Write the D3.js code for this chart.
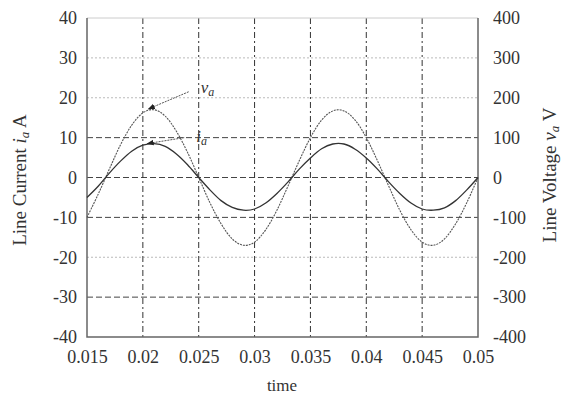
<!DOCTYPE html>
<html>
<head>
<meta charset="utf-8">
<script src="https://cdn.jsdelivr.net/npm/d3@7"></script>
<style>
  body { margin: 0; background: #fff; }
  text { font-family: "Liberation Serif", "DejaVu Serif", serif; fill: #333; }
</style>
</head>
<body>
<svg id="chart" width="562" height="396"></svg>
<script>
// time samples (s)
const time = [0.015,0.016,0.017,0.018,0.019,0.020,0.021,0.022,0.023,0.024,0.025,0.026,
  0.027,0.028,0.029,0.030,0.031,0.032,0.033,0.034,0.035,0.036,0.037,0.038,0.039,0.040,
  0.041,0.042,0.043,0.044,0.045,0.046,0.047,0.048,0.049,0.050]
// line voltage v_a (V, right axis)
const voltage = [-100,-42,21,82,131,162,170,154,116,63,0,-63,-116,-154,-170,-162,-131,-82,
  -21,42,100,144,167,167,144,100,42,-21,-82,-131,-162,-170,-154,-116,-63,0]
// line current i_a (A, left axis)
const current = [-5.0,-2.2,1.1,4.1,6.6,8.1,8.5,7.8,5.9,3.2,0,-3.1,-5.8,-7.5,-8.2,-7.9,-6.4,
  -4.0,-1.1,2.1,4.9,7.2,8.4,8.4,7.1,4.9,2.1,-1.1,-4.0,-6.4,-7.9,-8.2,-7.6,-5.8,-3.1,0]

const xTicks = [0.015,0.02,0.025,0.03,0.035,0.04,0.045,0.05]
const leftTicks = [-40,-30,-20,-10,0,10,20,30,40]
const rightTicks = [-400,-300,-200,-100,0,100,200,300,400]
const lightGrid = [30, 20, -20]

const svg = d3.select("#chart")
const margin = {left: 87, right: 84, top: 18, bottom: 59}
const width = 562 - margin.left - margin.right
const height = 396 - margin.top - margin.bottom
const serif = "'Liberation Serif', 'DejaVu Serif', serif"

const g = svg.append("g").attr("transform", `translate(${margin.left},${margin.top})`)

const x = d3.scaleLinear().domain([0.015, 0.05]).range([0, width])
const yL = d3.scaleLinear().domain([-40, 40]).range([height, 0])
const yR = d3.scaleLinear().domain([-400, 400]).range([height, 0])

// horizontal grid
g.append("g").selectAll("line")
  .data(leftTicks.filter(d => d > -40 && d < 40))
  .join("line")
    .attr("x1", 0).attr("x2", width)
    .attr("y1", d => yL(d)).attr("y2", d => yL(d))
    .attr("stroke", d => lightGrid.includes(d) ? "#bbb" : "#444")
    .attr("stroke-width", 1)
    .attr("stroke-dasharray", d => lightGrid.includes(d) ? "2,2" : "6,3");

// vertical grid (dash-dot)
g.append("g").selectAll("line")
  .data(xTicks.filter(d => d > 0.015 && d < 0.05))
  .join("line")
    .attr("x1", d => x(d)).attr("x2", d => x(d))
    .attr("y1", 0).attr("y2", height)
    .attr("stroke", "#333")
    .attr("stroke-dasharray", "6,3,2,3");

// frame
g.append("line").attr("x1", 0).attr("x2", width).attr("y1", 0).attr("y2", 0)
  .attr("stroke", "#ccc");
g.append("path")
  .attr("d", `M0,0V${height}H${width}V0`)
  .attr("fill", "none").attr("stroke", "#666").attr("stroke-width", 1.5);

// axes
const fmt = d => String(+d.toFixed(3))
const axL = g.append("g")
  .call(d3.axisLeft(yL).tickValues(leftTicks).tickFormat(fmt).tickSize(0).tickPadding(10))
axL.select(".domain").remove()
const axR = g.append("g").attr("transform", `translate(${width},0)`)
  .call(d3.axisRight(yR).tickValues(rightTicks).tickFormat(fmt).tickSize(0).tickPadding(15))
axR.select(".domain").remove()
const axB = g.append("g").attr("transform", `translate(0,${height})`)
  .call(d3.axisBottom(x).tickValues(xTicks).tickFormat(fmt).tickSize(0).tickPadding(13))
axB.select(".domain").remove()
g.selectAll(".tick text")
  .style("font-family", serif).style("font-size", "18px").attr("fill", "#333")

// curves
const lineV = d3.line().x((d, i) => x(time[i])).y(d => yR(d)).curve(d3.curveCardinal)
const lineI = d3.line().x((d, i) => x(time[i])).y(d => yL(d)).curve(d3.curveCardinal)

g.append("path").datum(voltage).attr("d", lineV)
  .attr("fill", "none").attr("stroke", "#555").attr("stroke-width", 1.1)
  .attr("stroke-dasharray", "2,1");
g.append("path").datum(current).attr("d", lineI)
  .attr("fill", "none").attr("stroke", "#333").attr("stroke-width", 1.3);

// annotations
svg.append("defs").append("marker")
  .attr("id", "arr").attr("viewBox", "0 0 10 10").attr("refX", 9).attr("refY", 5)
  .attr("markerWidth", 7).attr("markerHeight", 7).attr("orient", "auto")
  .append("path").attr("d", "M0,1L10,5L0,9z").attr("fill", "#222");

const notes = [
  {t: 0.0205, v: 17.2, tx: 0.0241, ty: 21.5, dy: 1, label: "v", sub: "a"},
  {t: 0.0204, v: 8.5, tx: 0.0237, ty: 10.0, dy: 4, label: "i", sub: "a"}
]
notes.forEach(n => {
  g.append("line")
    .attr("x1", x(n.tx)).attr("y1", yL(n.ty))
    .attr("x2", x(n.t)).attr("y2", yL(n.v))
    .attr("stroke", "#555").attr("stroke-dasharray", "2,1")
    .attr("marker-end", "url(#arr)");
  const t = g.append("text")
    .attr("x", x(n.tx) + 12).attr("y", yL(n.ty) + n.dy)
    .style("font-size", "17px").attr("font-style", "italic")
  t.append("tspan").text(n.label)
  t.append("tspan").style("font-size", "12px").attr("dy", 3).text(n.sub)
})

// axis titles
const lt = svg.append("text")
  .attr("transform", `translate(26,180) rotate(-90)`)
  .attr("text-anchor", "middle").style("font-size", "19px")
lt.append("tspan").text("Line Current ")
lt.append("tspan").attr("font-style", "italic").text("i")
lt.append("tspan").attr("font-style", "italic").style("font-size", "13px").attr("dy", 3).text("a")
lt.append("tspan").attr("dy", -3).text("  A")

const rt = svg.append("text")
  .attr("transform", `translate(556,175) rotate(-90)`)
  .attr("text-anchor", "middle").style("font-size", "19px")
rt.append("tspan").text("Line Voltage ")
rt.append("tspan").attr("font-style", "italic").text("v")
rt.append("tspan").attr("font-style", "italic").style("font-size", "13px").attr("dy", 3).text("a")
rt.append("tspan").attr("dy", -3).text("  V")

svg.append("text")
  .attr("x", 282).attr("y", 391)
  .attr("text-anchor", "middle").style("font-size", "17px")
  .text("time")
</script>
</body>
</html>
